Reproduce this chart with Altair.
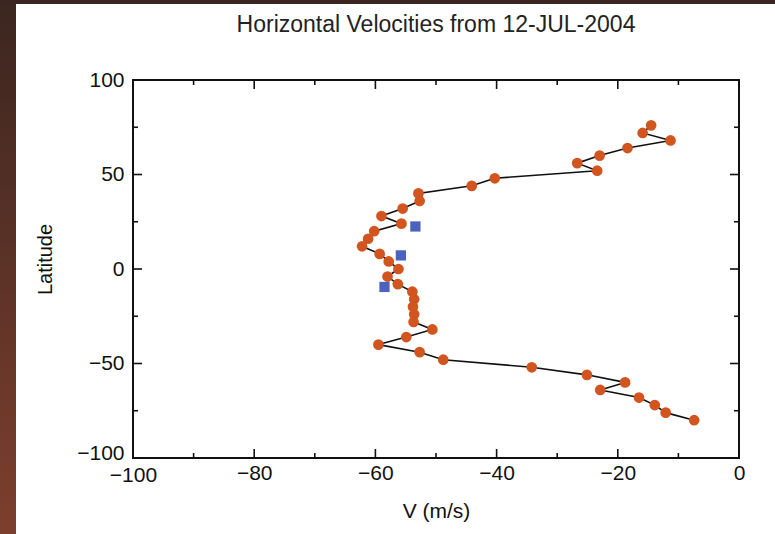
import altair as alt
import pandas as pd

# ---- data ----
lat = [76, 72, 68, 64, 60, 56, 52, 48, 44, 40, 36, 32, 28, 24, 20, 16, 12, 8, 4, 0,
       -4, -8, -12, -16, -20, -24, -28, -32, -36, -40, -44, -48, -52, -56, -60, -64,
       -68, -72, -76, -80]
vel = [-14.5, -15.9, -11.3, -18.4, -23.0, -26.7, -23.4, -40.3, -44.1, -52.9, -52.7,
       -55.5, -59.0, -55.7, -60.2, -61.2, -62.2, -59.3, -57.8, -56.2, -58.0, -56.3,
       -53.9, -53.6, -53.8, -53.6, -53.7, -50.6, -54.9, -59.5, -52.7, -48.8, -34.2,
       -25.1, -18.8, -22.9, -16.5, -13.9, -12.1, -7.4]
sq_lat = [22.5, 7.2, -9.5]
sq_vel = [-53.4, -55.8, -58.5]

x_major = [-100, -80, -60, -40, -20, 0]
x_minor = [-90, -70, -50, -30, -10]
y_major = [-100, -50, 0, 50, 100]
y_minor = [-75, -25, 25, 75]

title_text = "Horizontal Velocities from 12-JUL-2004"

W, H = 606, 378
FONT = "Liberation Sans"
ORANGE = "#d2541e"
BLUE = "#4b63bd"

df = pd.DataFrame({"V": vel, "Latitude": lat, "idx": list(range(len(lat)))})
sq = pd.DataFrame({"V": sq_vel, "Latitude": sq_lat})
one = pd.DataFrame({"a": [0]})

xs = alt.Scale(domain=[-100, 0], nice=False, zero=False)
ys = alt.Scale(domain=[-100, 100], nice=False, zero=False)

x_axis = alt.Axis(values=x_major, ticks=False, domain=False, grid=False,
                  labelFont=FONT, labelFontSize=21, labelColor="#111",
                  labelPadding={"expr": "datum.value == -100 ? 6 : 4"},
                  labelFlush=False, labelOverlap=False,
                  title="V (m/s)", titleFont=FONT, titleFontSize=21, titleFontWeight="normal",
                  titleColor="#111", titleX=W / 2, titleY=59, titleAlign="center",
                  titleBaseline="alphabetic")
y_axis = alt.Axis(values=y_major, ticks=False, domain=False, grid=False,
                  labelFont=FONT, labelFontSize=21, labelColor="#111", labelPadding=9,
                  labelOffset={"expr": "datum.value == -100 ? -5 : 0"},
                  labelFlush=False, labelOverlap=False,
                  title="Latitude", titleFont=FONT, titleFontSize=20, titleFontWeight="normal",
                  titleColor="#111", titleX=-88, titleY=179, titleAngle=270,
                  titleAlign="center", titleBaseline="middle")


def X(field):
    return alt.X(field, scale=xs, axis=x_axis, title="V (m/s)")


def Y(field):
    return alt.Y(field, scale=ys, axis=y_axis, title="Latitude")


# decorative frame of the slide
strip = alt.Chart(one).mark_rect(
    color=alt.LinearGradient(
        gradient="linear",
        stops=[alt.GradientStop(color="#3b2620", offset=0),
               alt.GradientStop(color="#7d3f2d", offset=1)],
        x1=0, x2=0, y1=0, y2=1),
    clip=False,
).encode(x=alt.value(-133), x2=alt.value(-117), y=alt.value(-80), y2=alt.value(454))
topbar = alt.Chart(one).mark_rect(color="#3a2621", clip=False).encode(
    x=alt.value(-133), x2=alt.value(642), y=alt.value(-80), y2=alt.value(-76))


def xticks(vals, length):
    d = pd.DataFrame({"V": vals})
    bot = alt.Chart(d).mark_rule(color="#111", strokeWidth=1.6).encode(
        x=X("V:Q"), y=alt.value(H), y2=alt.value(H - length))
    top = alt.Chart(d).mark_rule(color="#111", strokeWidth=1.6).encode(
        x=X("V:Q"), y=alt.value(0), y2=alt.value(length))
    return [bot, top]


def yticks(vals, length):
    d = pd.DataFrame({"Latitude": vals})
    left = alt.Chart(d).mark_rule(color="#111", strokeWidth=1.6).encode(
        y=Y("Latitude:Q"), x=alt.value(0), x2=alt.value(length))
    right = alt.Chart(d).mark_rule(color="#111", strokeWidth=1.6).encode(
        y=Y("Latitude:Q"), x=alt.value(W), x2=alt.value(W - length))
    return [left, right]


line = alt.Chart(df).mark_line(color="#111", strokeWidth=1.6).encode(
    x=X("V:Q"), y=Y("Latitude:Q"), order="idx:Q")

tick_layers = xticks(x_major, 9) + xticks(x_minor, 5) + yticks(y_major, 9) + yticks(y_minor, 5)

pts = alt.Chart(df).mark_circle(color=ORANGE, size=115, opacity=1).encode(
    x=X("V:Q"), y=Y("Latitude:Q"))
sqs = alt.Chart(sq).mark_square(color=BLUE, size=105, opacity=1).encode(
    x=X("V:Q"), y=Y("Latitude:Q"))

title = alt.Chart(one).mark_text(
    text=title_text, font=FONT, fontSize=23, color="#222",
    align="center", baseline="alphabetic", clip=False,
).encode(x=alt.value(W / 2), y=alt.value(-48))

chart = alt.layer(strip, topbar, line, *tick_layers, pts, sqs, title).properties(
    width=W, height=H,
    autosize=alt.AutoSizeParams(type="none"),
    padding={"left": 133, "top": 80, "right": 36, "bottom": 76},
    background="white",
).configure_view(stroke="#111", strokeWidth=2)

chart.save("out.html", embed_options={"renderer": "svg", "actions": False})
